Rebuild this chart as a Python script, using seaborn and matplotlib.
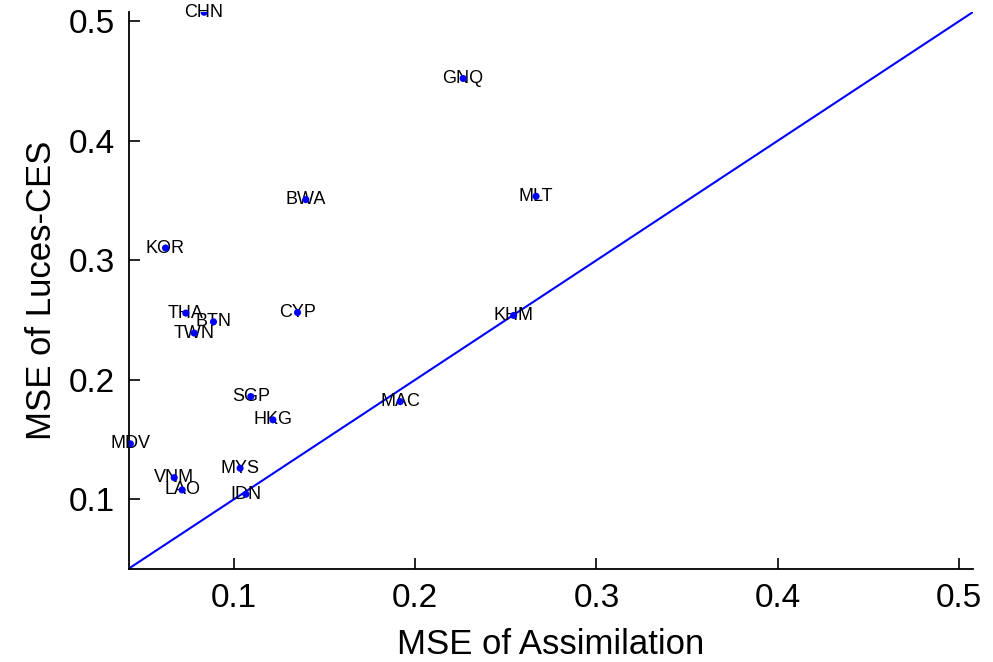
import matplotlib
matplotlib.use("Agg")
import matplotlib.pyplot as plt
import seaborn as sns
import pandas as pd

# values
countries = ["CHN", "GNQ", "BWA", "MLT", "KOR", "THA", "BTN", "TWN", "CYP",
             "KHM", "SGP", "HKG", "MAC", "MDV", "MYS", "VNM", "LAO", "IDN"]
mse_assim = [0.0834, 0.2264, 0.1396, 0.2667, 0.0621, 0.0733, 0.0886, 0.0779, 0.1350,
             0.2543, 0.1092, 0.1214, 0.1917, 0.0427, 0.1033, 0.0669, 0.0713, 0.1065]
mse_luces = [0.5077, 0.4523, 0.3508, 0.3536, 0.3103, 0.2558, 0.2485, 0.2391, 0.2563,
             0.2538, 0.1859, 0.1664, 0.1817, 0.1463, 0.1259, 0.1180, 0.1077, 0.1041]
diag = [0.042, 0.508]


def set_style():
    sns.set_theme(style="ticks")
    plt.rcParams['font.family'] = ['Liberation Sans', 'DejaVu Sans']
    plt.rcParams['xtick.direction'] = 'in'
    plt.rcParams['ytick.direction'] = 'in'
    plt.rcParams['text.color'] = 'black'
    plt.rcParams['axes.labelcolor'] = 'black'


def plot_mse(output_path):
    set_style()
    df = pd.DataFrame({"country": countries, "assim": mse_assim, "luces": mse_luces})

    fig = plt.figure(figsize=(9.93, 6.62), dpi=100)
    ax = fig.add_axes([0.130, 0.1405, 0.850, 0.8415])

    # 45 degree reference line
    ax.plot(diag, diag, color="#0000ff", linewidth=1.5, zorder=1)

    for _, r in df.iterrows():
        ax.text(r["assim"], r["luces"], r["country"], ha="center", va="center",
                fontsize=13, color="black", zorder=2)

    sns.scatterplot(data=df, x="assim", y="luces", ax=ax, color="#0000ff",
                    s=26, edgecolor="none", zorder=3, legend=False)

    ax.set_xlim(0.042, 0.508)
    ax.set_ylim(0.0415, 0.508)
    ax.set_xticks([0.1, 0.2, 0.3, 0.4, 0.5])
    ax.set_yticks([0.1, 0.2, 0.3, 0.4, 0.5])
    ax.set_xticklabels(["0.1", "0.2", "0.3", "0.4", "0.5"])
    ax.set_yticklabels(["0.1", "0.2", "0.3", "0.4", "0.5"])
    ax.tick_params(labelsize=24, length=8, width=1.2, colors="black", pad=10)

    ax.set_xlabel("MSE of Assimilation", fontsize=25, labelpad=10, color="black")
    ax.set_ylabel("MSE of Luces-CES", fontsize=25, labelpad=8, color="black")

    sns.despine(ax=ax)
    for sp in ["left", "bottom"]:
        ax.spines[sp].set_linewidth(1.3)
        ax.spines[sp].set_color("black")

    fig.savefig(output_path, dpi=100)
    plt.close(fig)


plot_mse("out.png")
